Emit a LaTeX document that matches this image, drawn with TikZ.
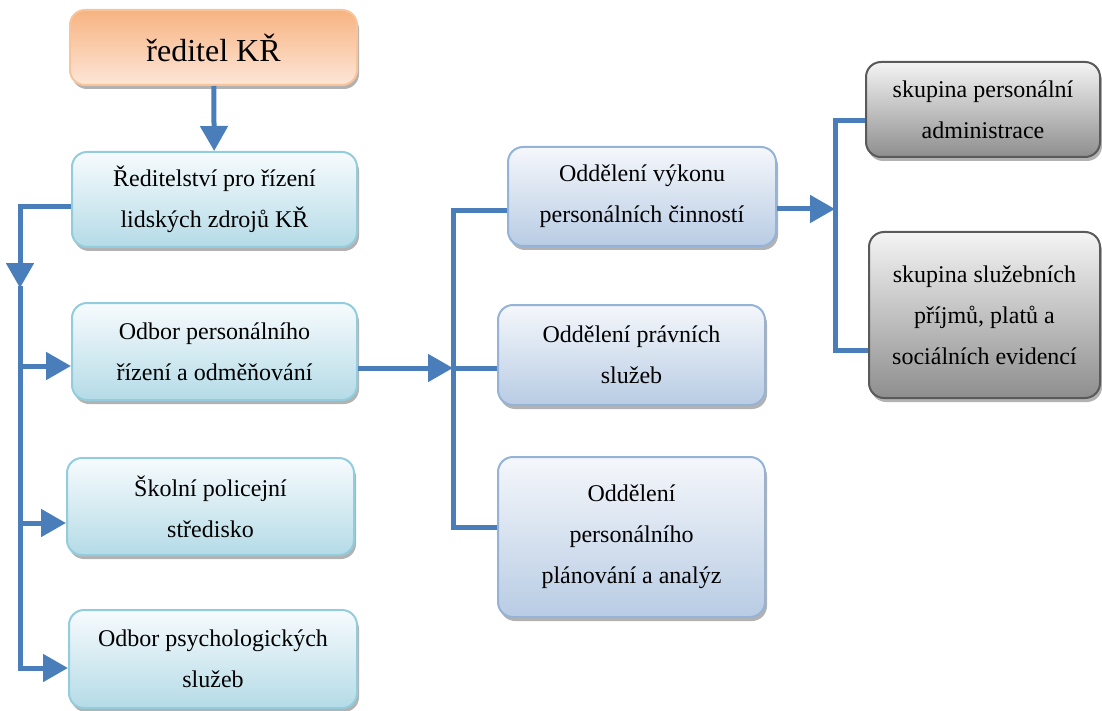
\documentclass[tikz,border=0pt]{standalone}
\usepackage{fontspec}
\setmainfont{LiberationSerif}[Extension=.ttf, UprightFont=*-Regular, BoldFont=*-Bold, ItalicFont=*-Italic]
\usetikzlibrary{arrows.meta,shadows}
\definecolor{conn}{HTML}{4A7EBB}
\definecolor{cyanTop}{HTML}{F7FBFD}
\definecolor{cyanBot}{HTML}{B4DBE7}
\definecolor{cyanBorder}{HTML}{93CDDD}
\definecolor{blueTop}{HTML}{F5F7FB}
\definecolor{blueBot}{HTML}{B8CCE4}
\definecolor{blueBorder}{HTML}{95B3D7}
\definecolor{greyTop}{HTML}{F4F4F4}
\definecolor{greyBot}{HTML}{8E8E8E}
\definecolor{greyBorder}{HTML}{5A5A5A}
\definecolor{orTop}{HTML}{F7B381}
\definecolor{orBot}{HTML}{FDE6D8}
\definecolor{orBorder}{HTML}{F9C49A}
\tikzset{
  x=1pt, y=-1pt,
  boxbase/.style={rounded corners=15pt, line width=2pt, inner sep=0pt, align=center,
    font=\fontsize{24}{41}\selectfont,
    drop shadow={shadow xshift=2pt, shadow yshift=-4pt, opacity=0.55, fill=black!55}},
  cyanbox/.style={boxbase, draw=cyanBorder, top color=cyanTop, bottom color=cyanBot},
  bluebox/.style={boxbase, draw=blueBorder, top color=blueTop, bottom color=blueBot},
  greybox/.style={boxbase, draw=greyBorder, top color=greyTop, bottom color=greyBot},
  topbox/.style={boxbase, draw=orBorder, top color=orTop, bottom color=orBot, font=\fontsize{32}{38}\selectfont},
  conline/.style={draw=conn, line width=5pt},
  conarrow/.style={conline, -{Triangle[length=25pt,width=27pt]}},
}
\begin{document}
\begin{tikzpicture}
\useasboundingbox (0,0) rectangle (1102,711);
% boxes
\node[topbox, minimum width=287pt, minimum height=75pt] (title) at (213.5,47.5) {ředitel KŘ};
\node[cyanbox, minimum width=285pt, minimum height=95pt] (b2) at (214.5,199.5) {Ředitelství pro řízení\\lidských zdrojů KŘ};
\node[cyanbox, minimum width=285pt, minimum height=97pt] (b3) at (214.5,351.5) {Odbor personálního\\řízení a odměňování};
\node[cyanbox, minimum width=287pt, minimum height=97pt] (b4) at (210.5,506.5) {Školní policejní\\středisko};
\node[cyanbox, minimum width=288pt, minimum height=98pt] (b5) at (213,659) {Odbor psychologických\\služeb};
\node[bluebox, minimum width=268pt, minimum height=99pt] (b6) at (642,196.5) {Oddělení výkonu\\personálních činností};
\node[bluebox, minimum width=267pt, minimum height=100pt] (b7) at (631.5,355) {Oddělení právních\\služeb};
\node[bluebox, minimum width=267pt, minimum height=160pt] (b8) at (631.5,537) {Oddělení\\personálního\\plánování a analýz};
\node[greybox, minimum width=234pt, minimum height=95pt] (b9) at (983,109.5) {skupina personální\\administrace};
\node[greybox, minimum width=231pt, minimum height=166pt] (b10) at (984.5,315) {skupina služebních\\příjmů, platů a\\sociálních evidencí};
% junction coordinates
\coordinate (l0) at (20,207);
\coordinate (l1) at (20,288);
\coordinate (l3) at (20,366);
\coordinate (l4) at (20,523);
\coordinate (l5) at (20,668);
\coordinate (m3) at (453,368);
\coordinate (m6) at (453,211);
\coordinate (m8) at (453,527);
\coordinate (r0) at (835,209);
\coordinate (r9) at (835,121);
\coordinate (r10) at (835,350);
% connectors
\draw[conarrow] (title) -- (b2);
\draw[conarrow] (l0 -| b2.west) -- (l0) -- (l1);
\draw[conline, line cap=rect] (l1) -- (l5);
\draw[conarrow] (l3) -- (l3 -| b3.west);
\draw[conarrow] (l4) -- (l4 -| b4.west);
\draw[conarrow] (l5) -- (l5 -| b5.west);
\draw[conarrow] (m3 -| b3.east) -- (m3);
\draw[conline] (m6 -| b6.west) -- (m6) -- (m8) -- (m8 -| b8.west);
\draw[conline] (m3) -- (m3 -| b7.west);
\draw[conarrow] (r0 -| b6.east) -- (r0);
\draw[conline] (r9 -| b9.west) -- (r9) -- (r10) -- (r10 -| b10.west);
\end{tikzpicture}
\end{document}
